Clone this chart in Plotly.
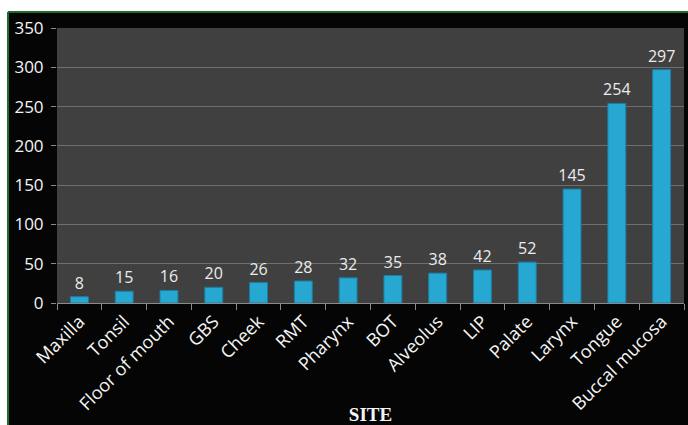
import plotly.graph_objects as go

sites = ["Maxilla", "Tonsil", "Floor of mouth", "GBS", "Cheek", "RMT", "Pharynx",
         "BOT", "Alveolus", "LIP", "Palate", "Larynx", "Tongue", "Buccal mucosa"]
counts = [8, 15, 16, 20, 26, 28, 32, 35, 38, 42, 52, 145, 254, 297]
y_ticks = [0, 50, 100, 150, 200, 250, 300, 350]

fig = go.Figure()
fig.add_trace(go.Bar(
    x=sites, y=counts, text=[str(c) for c in counts], textposition="outside",
    constraintext="none",
    textfont=dict(color="#ececec", size=16, family="Open Sans"),
    marker=dict(color="#27a8d2", line=dict(color="#1a7fa3", width=1)),
    width=0.4, cliponaxis=False,
))

H = 275.0
W = 627.0
fig.update_layout(
    width=688, height=425,
    margin=dict(l=57, r=4, t=28, b=122, autoexpand=False),
    paper_bgcolor="#050505", plot_bgcolor="#404040",
    showlegend=False,
    font=dict(family="Open Sans", color="#f0f0f0", size=15),
    xaxis=dict(
        type="category", tickangle=-45, tickson="boundaries", automargin=False,
        ticks="outside", ticklen=6, tickcolor="#8a8a8a",
        showline=True, linecolor="#8a8a8a", linewidth=1,
        showgrid=False,
        tickfont=dict(size=18, color="#f5f5f5", family="Open Sans"),
        title=dict(text="<b>SITE</b>", font=dict(family="Liberation Serif", size=19, color="#f5f5f5"),
                   standoff=0),
    ),
    yaxis=dict(
        range=[0, 350], tickvals=y_ticks, ticks="outside", ticklen=5, tickcolor="#8a8a8a",
        automargin=False, ticklabelstandoff=4,
        showgrid=True, gridcolor="#6e6e6e", gridwidth=1,
        showline=False, zeroline=False,
        tickfont=dict(size=17, color="#f5f5f5", family="Open Sans"),
    ),
    shapes=[
        dict(type="rect", xref="paper", yref="paper", x0=-57/W, x1=1 + 4/W,
             y0=1 + 16/H, y1=1 + 28/H, fillcolor="white", line=dict(width=0), layer="above"),
        dict(type="rect", xref="paper", yref="paper", x0=-57/W, x1=-49/W,
             y0=-122/H, y1=1 + 28/H, fillcolor="white", line=dict(width=0), layer="above"),
        dict(type="line", xref="paper", yref="paper", x0=-49/W, x1=1 + 4/W,
             y0=1 + 16/H, y1=1 + 16/H, line=dict(color="#1d6b2e", width=2), layer="above"),
        dict(type="line", xref="paper", yref="paper", x0=-49/W, x1=-49/W,
             y0=-122/H, y1=1 + 16/H, line=dict(color="#1d6b2e", width=2), layer="above"),
    ],
)
fig.write_html("out.html")
